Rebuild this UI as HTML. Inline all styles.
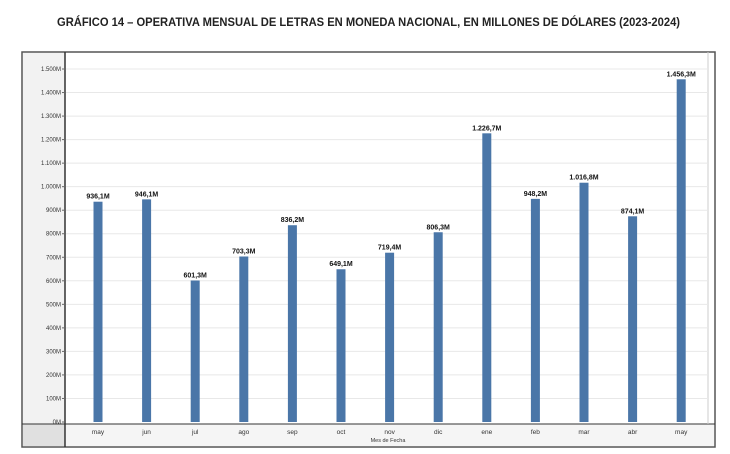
<!DOCTYPE html>
<html><head><style>
body{margin:0;background:#fff;}
svg{display:block;font-family:"Liberation Sans",sans-serif;}
</style></head><body>
<svg width="730" height="454" xmlns="http://www.w3.org/2000/svg">
<text x="57" y="26" textLength="623" lengthAdjust="spacingAndGlyphs" font-size="12" font-weight="bold" fill="#222">GRÁFICO 14 – OPERATIVA MENSUAL DE LETRAS EN MONEDA NACIONAL, EN MILLONES DE DÓLARES (2023-2024)</text>
<rect x="22" y="52" width="693" height="395" fill="#fff" stroke="#555" stroke-width="1.5"/>
<rect x="23" y="53" width="42" height="371" fill="#f2f2f2"/>
<rect x="23" y="424" width="42" height="22" fill="#e0e0e0"/>
<rect x="66" y="424" width="648" height="22" fill="#f5f5f5"/>
<line x1="65" y1="52" x2="65" y2="447" stroke="#333" stroke-width="1.5"/>
<line x1="22" y1="424" x2="715" y2="424" stroke="#333" stroke-width="1"/>
<line x1="708" y1="52" x2="708" y2="424" stroke="#ccc" stroke-width="1"/>
<g id="grid" stroke="#e8e8e8" stroke-width="1"></g>
<g id="yl" font-size="6" fill="#333" text-anchor="end"></g>
<g id="bars" fill="#4a76a8"></g>
<g id="vl" font-size="7" font-weight="bold" fill="#111" text-anchor="middle"></g>
<g id="xl" font-size="6.5" fill="#333" text-anchor="middle"></g>
<text x="388" y="442" font-size="5.5" fill="#333" text-anchor="middle">Mes de Fecha</text>
<script>
var NS="http://www.w3.org/2000/svg";
function el(p,t,a,txt){var e=document.createElementNS(NS,t);for(var k in a)e.setAttribute(k,a[k]);if(txt)e.textContent=txt;document.getElementById(p).appendChild(e);}
function Y(v){return 422-v*0.23533;}
for(var i=0;i<=15;i++){var y=Y(i*100);
 if(i>0)el("grid","line",{x1:66,x2:708,y1:y,y2:y});
 el("grid","line",{x1:62,x2:65,y1:y,y2:y,stroke:"#666"});
 var lab=i==0?"0M":(i>=10?"1."+String(i*100-1000).padStart(3,"0")+"M":(i*100)+"M");
 el("yl","text",{x:61,y:y+2},lab);}
var m=["may","jun","jul","ago","sep","oct","nov","dic","ene","feb","mar","abr","may"];
var v=[936.1,946.1,601.3,703.3,836.2,649.1,719.4,806.3,1226.7,948.2,1016.8,874.1,1456.3];
var lbl=["936,1M","946,1M","601,3M","703,3M","836,2M","649,1M","719,4M","806,3M","1.226,7M","948,2M","1.016,8M","874,1M","1.456,3M"];
for(var i=0;i<13;i++){var cx=98+i*48.6;var y=Y(v[i]);
 el("bars","rect",{x:cx-4.5,y:y,width:9,height:422-y});
 el("vl","text",{x:cx,y:y-3},lbl[i]);
 el("xl","text",{x:cx,y:434},m[i]);}
</script>
</svg>
</body></html>
